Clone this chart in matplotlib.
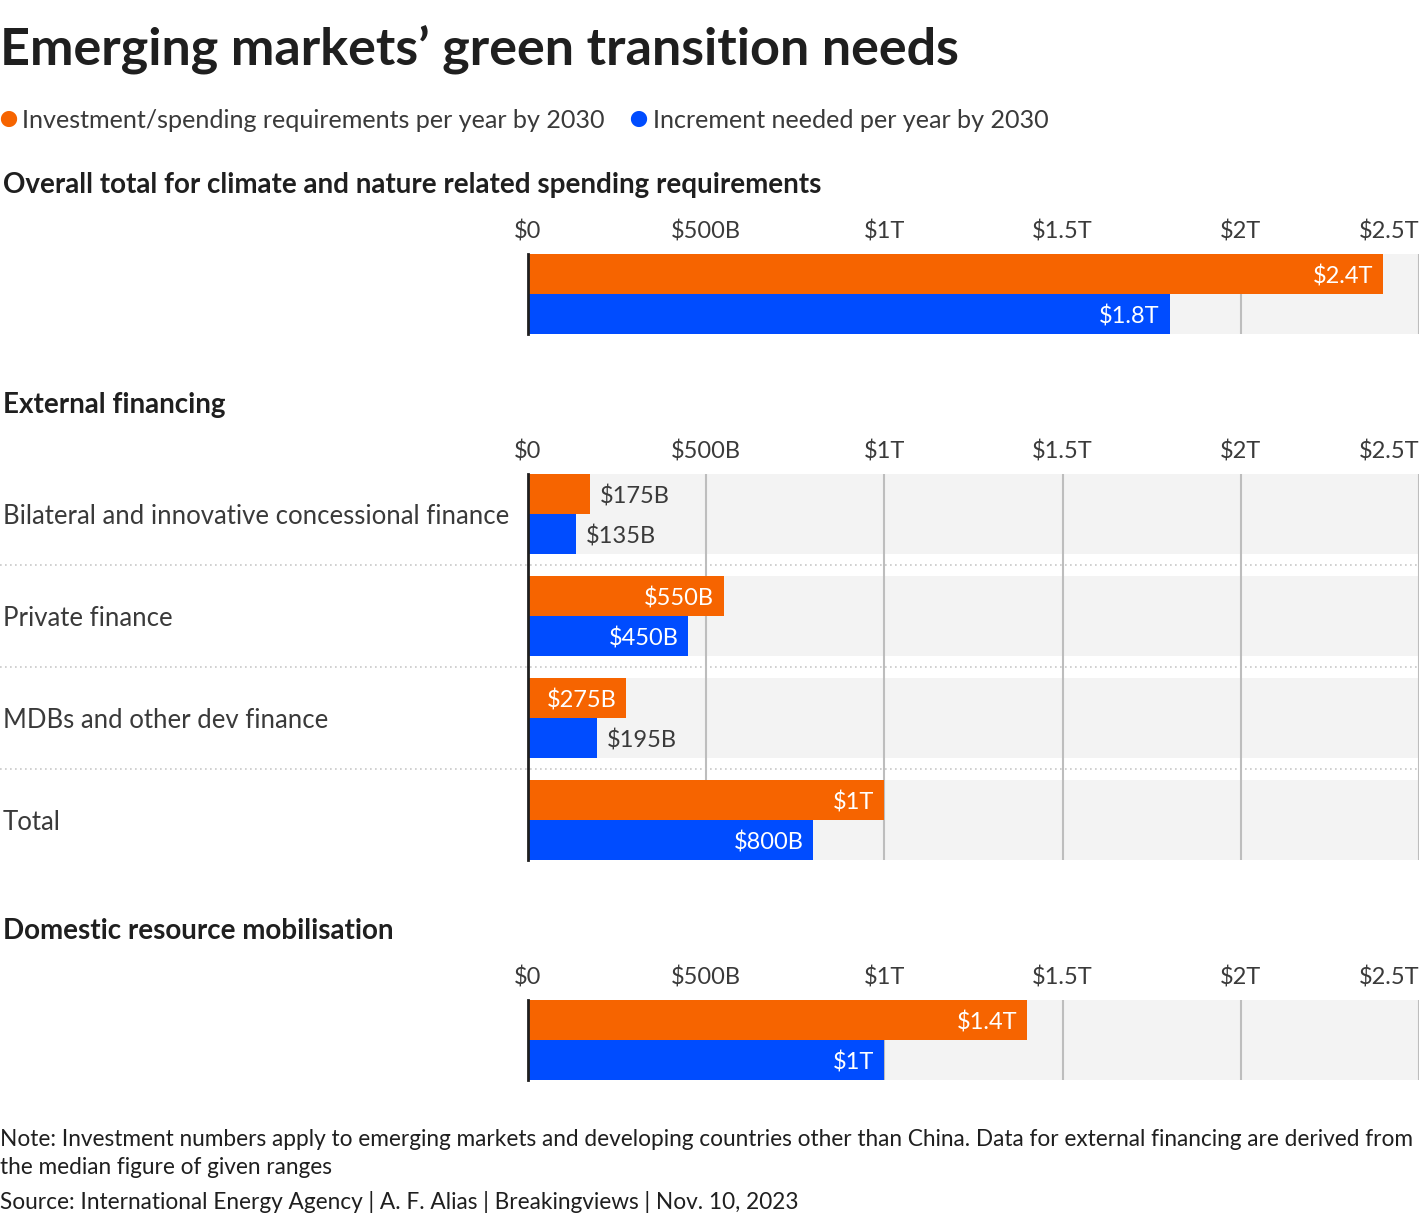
import matplotlib
matplotlib.use("Agg")
import matplotlib.pyplot as plt
from matplotlib.transforms import blended_transform_factory

plt.rcParams['font.family'] = ['Lato', 'DejaVu Sans']

W, H = 1420, 1220

# data (trillions of dollars)
overall_cats = [""]
overall_invest = [2.4]
overall_incr = [1.8]

external_cats = ["Bilateral and innovative concessional finance", "Private finance",
                 "MDBs and other dev finance", "Total"]
external_invest = [0.175, 0.55, 0.275, 1.0]
external_incr = [0.135, 0.45, 0.195, 0.8]

domestic_cats = [""]
domestic_invest = [1.4]
domestic_incr = [1.0]

ticks = [0, 0.5, 1, 1.5, 2, 2.5]
tick_labels = ["$0", "$500B", "$1T", "$1.5T", "$2T", "$2.5T"]

ORANGE = "#f66400"
BLUE = "#004cff"
BG = "#f3f3f3"
GRID = "#bdbdbd"
DARK = "#1f1f1f"
TXT = "#3a3a3a"

ROW = 102  # px per category row
BAR = 40   # px per bar


def fx(x):
    return x / W


def fy(y):
    # +2 px: Lato sits a little high when centred
    return 1 - (y + 2) / H


def fmt(v):
    if v < 1:
        return f"${v * 1000:.0f}B"
    return f"${v:g}T"


fig = plt.figure(figsize=(W / 100, H / 100), dpi=100)


def panel(top, cats, invest, incr):
    n = len(cats)
    h = (n - 1) * ROW + 2 * BAR
    ax = fig.add_axes([fx(528), 1 - (top + h) / H, fx(891), h / H])
    half = BAR / ROW
    ax.set_xlim(0, 2.5)
    ax.set_ylim(n - 1 + half, -half)
    rows = list(range(n))
    ax.barh(rows, [2.5] * n, height=2 * half, color=BG, zorder=0)
    for t in ticks[1:]:
        ax.axvline(t, color=GRID, lw=1.5, zorder=1)
    ax.barh([r - half / 2 for r in rows], invest, height=half, color=ORANGE, zorder=2)
    ax.barh([r + half / 2 for r in rows], incr, height=half, color=BLUE, zorder=2)
    for r in rows:
        for v, yy in ((invest[r], r - half / 2), (incr[r], r + half / 2)):
            if v >= 0.25:
                ax.annotate(fmt(v), (v, yy), xytext=(-7, -1.5), textcoords="offset points",
                            ha="right", va="center", color="white", fontsize=17, zorder=3)
            else:
                ax.annotate(fmt(v), (v, yy), xytext=(7, -1.5), textcoords="offset points",
                            ha="left", va="center", color=TXT, fontsize=17, zorder=3)
        if cats[r]:
            ax.annotate(cats[r], (fx(3), r), xycoords=blended_transform_factory(fig.transFigure, ax.transData),
                        xytext=(0, -1.5), textcoords="offset points",
                        ha="left", va="center", fontsize=18.5, color=TXT)
    tr = blended_transform_factory(fig.transFigure, ax.transData)
    for r in rows[:-1]:
        ax.plot([0, 1], [r + 0.5, r + 0.5], transform=tr, clip_on=False,
                color="#c8c8c8", lw=1.2, ls=(0, (1, 2)), zorder=0)
    ax.xaxis.tick_top()
    ax.set_xticks(ticks)
    ax.set_xticklabels(tick_labels, fontsize=17, color=TXT)
    ax.get_xticklabels()[-1].set_ha("right")
    ax.tick_params(axis="x", length=0, pad=8)
    ax.set_yticks([])
    for s in ("top", "right", "bottom"):
        ax.spines[s].set_visible(False)
    ax.spines["left"].set_color(DARK)
    ax.spines["left"].set_linewidth(2)
    ax.set_facecolor("none")
    return ax


panel(254, overall_cats, overall_invest, overall_incr)
panel(474, external_cats, external_invest, external_incr)
panel(1000, domestic_cats, domestic_invest, domestic_incr)

fig.text(fx(0), fy(48), "Emerging markets\u2019 green transition needs", fontsize=37.5,
         fontweight="bold", color=DARK, ha="left", va="center")

fig.text(fx(-2), fy(118), "\u25cf", color=ORANGE, fontsize=24, ha="left", va="center")
fig.text(fx(22), fy(119), "Investment/spending requirements per year by 2030", fontsize=18.1,
         color=TXT, ha="left", va="center")
fig.text(fx(628), fy(118), "\u25cf", color=BLUE, fontsize=24, ha="left", va="center")
fig.text(fx(653), fy(119), "Increment needed per year by 2030", fontsize=18.1,
         color=TXT, ha="left", va="center")

for y, s in ((183, "Overall total for climate and nature related spending requirements"),
             (403, "External financing"),
             (929, "Domestic resource mobilisation")):
    fig.text(fx(3), fy(y), s, fontsize=20, fontweight="bold", color=DARK, ha="left", va="center")

fig.text(fx(0), fy(1137), "Note: Investment numbers apply to emerging markets and developing countries "
         "other than China. Data for external financing are derived from", fontsize=16.3,
         color=DARK, ha="left", va="center")
fig.text(fx(0), fy(1166), "the median figure of given ranges", fontsize=16.3,
         color=DARK, ha="left", va="center")
fig.text(fx(0), fy(1200), "Source: International Energy Agency | A. F. Alias | Breakingviews | Nov. 10, 2023",
         fontsize=16.3, color=DARK, ha="left", va="center")

fig.savefig("out.png", dpi=100, facecolor="white")
